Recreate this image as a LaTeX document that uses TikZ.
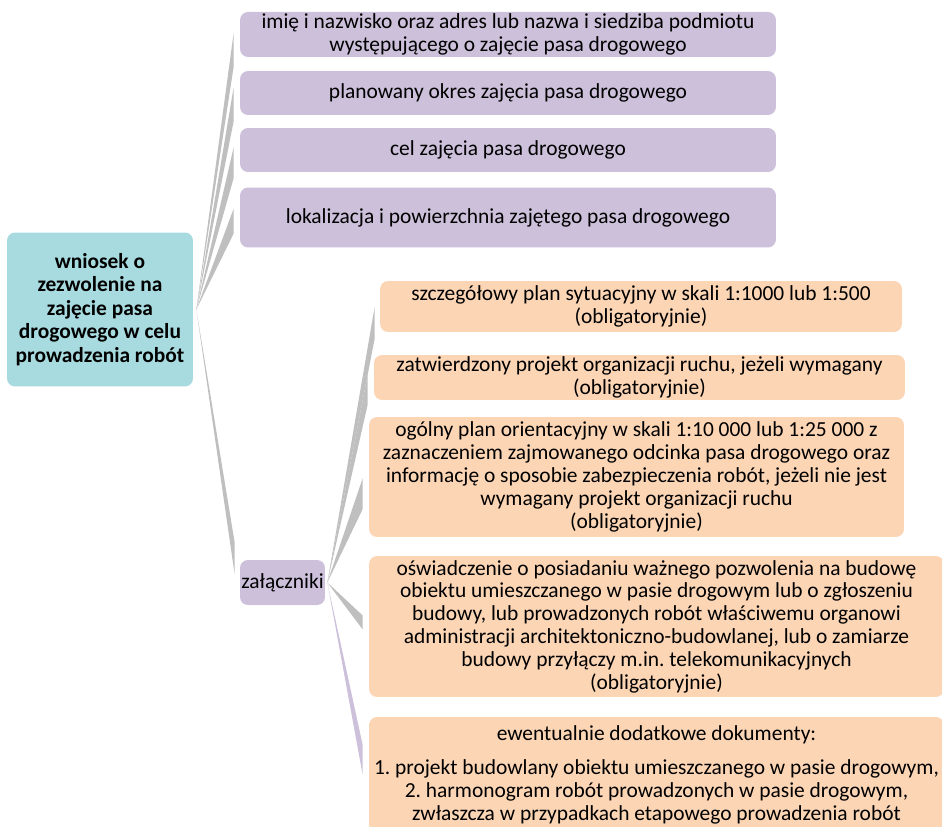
\documentclass[tikz,border=0pt]{standalone}
\usepackage{fontspec}
\setmainfont{Carlito}
\usetikzlibrary{calc}
\frenchspacing

\definecolor{turkus}{RGB}{168,219,223}
\definecolor{fiolet}{RGB}{204,192,218}
\definecolor{brzoskwinia}{RGB}{252,213,181}
\definecolor{szary}{RGB}{191,191,191}

\begin{document}
\begin{tikzpicture}[x=0.02cm, y=-0.02cm,
	box/.style={rounded corners=0.16cm, inner sep=0pt, align=center,
		font=\fontsize{12.2}{13}\selectfont},
	korzen/.style={box, fill=turkus, minimum width=3.72cm, minimum height=3.08cm,
		font=\fontsize{12.2}{13.3}\selectfont\bfseries},
	punkt/.style={box, fill=fiolet, minimum width=10.72cm},
	zalacznik/.style={box, fill=brzoskwinia},
	klin/.style={fill=szary}]
	\useasboundingbox (0,0) rectangle (942,827);

	\node[korzen] (wniosek) at (100,309.5) {wniosek o\\ zezwolenie na\\ zajęcie pasa\\ drogowego w celu\\ prowadzenia robót};

	\node[punkt, minimum height=0.9cm] (imie) at (508,34.5) {imię i nazwisko oraz adres lub nazwa i siedziba podmiotu\\ występującego o zajęcie pasa drogowego};
	\node[punkt, minimum height=0.88cm] (okres) at (508,93) {planowany okres zajęcia pasa drogowego};
	\node[punkt, minimum height=0.88cm] (cel) at (508,150) {cel zajęcia pasa drogowego};
	\node[punkt, minimum height=1.2cm] (lokalizacja) at (508,217.5) {lokalizacja i powierzchnia zajętego pasa drogowego};
	\node[box, fill=fiolet, minimum width=1.7cm, minimum height=0.9cm] (zalaczniki) at (282.5,582.5) {załączniki};

	\node[zalacznik, minimum width=10.44cm, minimum height=1.02cm] (plan) at (641,306.5) {szczegółowy plan sytuacyjny w skali 1:1000 lub 1:500\\ (obligatoryjnie)};
	\node[zalacznik, minimum width=10.62cm, minimum height=0.9cm] (projekt) at (639.5,377.5) {zatwierdzony projekt organizacji ruchu, jeżeli wymagany\\ (obligatoryjnie)};
	\node[zalacznik, minimum width=10.7cm, minimum height=2.4cm] (ogolny) at (636.5,477) {ogólny plan orientacyjny w skali 1:10 000 lub 1:25 000 z\\ zaznaczeniem zajmowanego odcinka pasa drogowego oraz\\ informację o sposobie zabezpieczenia robót, jeżeli nie jest\\ wymagany projekt organizacji ruchu\\ (obligatoryjnie)};
	\node[zalacznik, minimum width=11.5cm, minimum height=2.82cm] (oswiadczenie) at (656.5,626.5) {oświadczenie o posiadaniu ważnego pozwolenia na budowę\\ obiektu umieszczanego w pasie drogowym lub o zgłoszeniu\\ budowy, lub prowadzonych robót właściwemu organowi\\ administracji architektoniczno-budowlanej, lub o zamiarze\\ budowy przyłączy m.in. telekomunikacyjnych\\ (obligatoryjnie)};
	\node[zalacznik, minimum width=11.5cm, minimum height=2.32cm] (dodatkowe) at (656.5,775) {ewentualnie dodatkowe dokumenty:\\[0.22cm] 1. projekt budowlany obiektu umieszczanego w pasie drogowym,\\ 2. harmonogram robót prowadzonych w pasie drogowym,\\ zwłaszcza w przypadkach etapowego prowadzenia robót};

	% kliny od wniosku
	\fill[klin] ($(wniosek.east)+(3,0)$) -- ($(imie.west)+(-6,-2)$) -- ($(imie.west)+(-6,32)$) -- cycle;
	\fill[klin] ($(wniosek.east)+(3,0)$) -- ($(okres.west)+(-6,-6)$) -- ($(okres.west)+(-6,28)$) -- cycle;
	\fill[klin] ($(wniosek.east)+(3,0)$) -- ($(cel.west)+(-6,-3)$) -- ($(cel.west)+(-6,28)$) -- cycle;
	\fill[klin] ($(wniosek.east)+(3,0)$) -- ($(lokalizacja.west)+(-6,-9)$) -- ($(lokalizacja.west)+(-6,16)$) -- cycle;
	\fill[klin] ($(wniosek.east)+(3,0)$) -- ($(zalaczniki.west)+(-5,-40)$) -- ($(zalaczniki.west)+(-5,-8)$) -- cycle;

	% kliny od zalacznikow
	\fill[klin] ($(zalaczniki.east)+(2,0)$) -- ($(plan.west)+(-5,0)$) -- ($(plan.west)+(-5,32)$) -- cycle;
	\fill[klin] ($(zalaczniki.east)+(2,0)$) -- ($(projekt.west)+(-6,-3)$) -- ($(projekt.west)+(-6,27)$) -- cycle;
	\fill[klin] ($(zalaczniki.east)+(2,0)$) -- ($(ogolny.west)+(-6,1)$) -- ($(ogolny.west)+(-6,32)$) -- cycle;
	\fill[klin] ($(zalaczniki.east)+(2,0)$) -- ($(oswiadczenie.west)+(-6,-11)$) -- ($(oswiadczenie.west)+(-6,3)$) -- cycle;
	\fill[fiolet] ($(zalaczniki.east)+(2,0)$) -- ($(dodatkowe.west)+(-6,-30)$) -- ($(dodatkowe.west)+(-6,0)$) -- cycle;
\end{tikzpicture}
\end{document}
